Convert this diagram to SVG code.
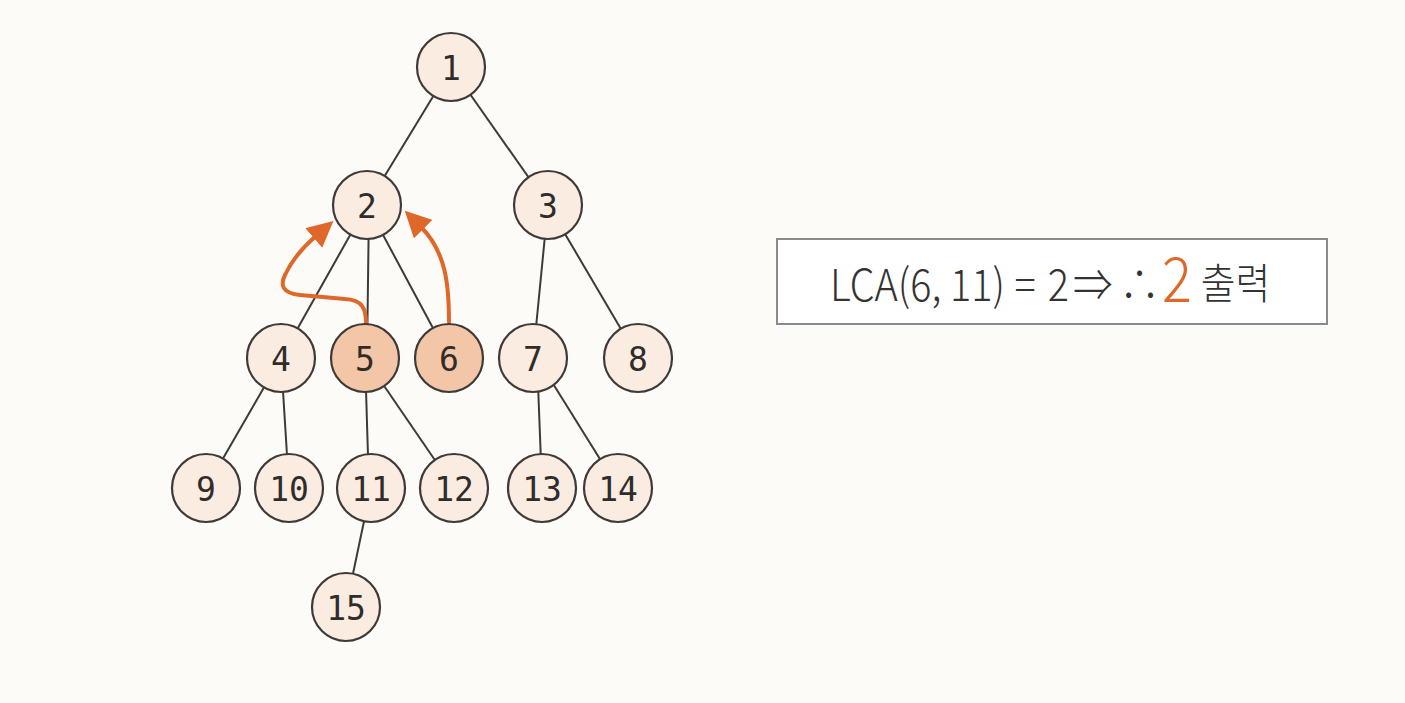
<svg xmlns="http://www.w3.org/2000/svg" width="1405" height="703" viewBox="0 0 1405 703">
<defs>
<style>
.n circle{fill:#fbece2;stroke:#3d3a38;stroke-width:2.2}
.n.h circle{fill:#f3c6a8}
.n text{font-family:"DejaVu Sans Mono","Liberation Mono",monospace;font-size:33px;fill:#2f2c2a;text-anchor:middle;dominant-baseline:central}
.e line{stroke:#3d3a38;stroke-width:2}
.arr{fill:none;stroke:#e0672a;stroke-width:4;stroke-linecap:round;stroke-linejoin:round}
.lbl{font-family:"Noto Sans CJK KR","Liberation Sans",sans-serif;font-size:44px;fill:#333;font-weight:300}
.lbl .hl{fill:#e0672a;font-size:62px}
.lbl .ko{font-size:42px}
</style>
<marker id="ah" viewBox="0 0 26 26" refX="3" refY="13" markerWidth="26" markerHeight="26" markerUnits="userSpaceOnUse" orient="auto">
<path d="M0,0 L26,13 L0,26 z" fill="#e0672a"/>
</marker>
</defs>
<rect width="1405" height="703" fill="#fcfbf8"/>
<g id="connectors" class="e">
<line x1="451" y1="67" x2="367" y2="205"/>
<line x1="451" y1="67" x2="548" y2="205"/>
<line x1="367" y1="205" x2="281" y2="358"/>
<line x1="369" y1="205" x2="367" y2="358"/>
<line x1="367" y1="205" x2="449" y2="358"/>
<line x1="548" y1="205" x2="533" y2="358"/>
<line x1="548" y1="205" x2="638" y2="358"/>
<line x1="281" y1="358" x2="206" y2="488"/>
<line x1="281" y1="358" x2="289" y2="488"/>
<line x1="365" y1="358" x2="369" y2="488"/>
<line x1="365" y1="358" x2="454" y2="488"/>
<line x1="537" y1="358" x2="542" y2="488"/>
<line x1="537" y1="358" x2="618" y2="488"/>
<line x1="371" y1="488" x2="346" y2="607"/>
<path class="arr" d="M366,323 C366,308 362,300 345,299 L300,295 C282,293 280,285 285,275 C292,260 302,248 316,236" marker-end="url(#ah)"/>
<path class="arr" d="M449,322 C449,285 446,252 421,227" marker-end="url(#ah)"/>
</g>
<g id="n1" class="n"><circle cx="451" cy="67" r="34"/><text x="451" y="68">1</text></g>
<g id="n2" class="n"><circle cx="367" cy="205" r="34"/><text x="367" y="206">2</text></g>
<g id="n3" class="n"><circle cx="548" cy="205" r="34"/><text x="548" y="206">3</text></g>
<g id="n4" class="n"><circle cx="281" cy="358" r="34"/><text x="281" y="359">4</text></g>
<g id="n5" class="n h"><circle cx="365" cy="358" r="34"/><text x="365" y="359">5</text></g>
<g id="n6" class="n h"><circle cx="449" cy="358" r="34"/><text x="449" y="359">6</text></g>
<g id="n7" class="n"><circle cx="533" cy="358" r="34"/><text x="533" y="359">7</text></g>
<g id="n8" class="n"><circle cx="638" cy="358" r="34"/><text x="638" y="359">8</text></g>
<g id="n9" class="n"><circle cx="206" cy="488" r="34"/><text x="206" y="489">9</text></g>
<g id="n10" class="n"><circle cx="289" cy="488" r="34"/><text x="289" y="489">10</text></g>
<g id="n11" class="n"><circle cx="371" cy="488" r="34"/><text x="371" y="489">11</text></g>
<g id="n12" class="n"><circle cx="454" cy="488" r="34"/><text x="454" y="489">12</text></g>
<g id="n13" class="n"><circle cx="542" cy="488" r="34"/><text x="542" y="489">13</text></g>
<g id="n14" class="n"><circle cx="618" cy="488" r="34"/><text x="618" y="489">14</text></g>
<g id="n15" class="n"><circle cx="346" cy="607" r="34"/><text x="346" y="608">15</text></g>
<g id="result">
<rect x="777" y="239" width="550" height="85" fill="#ffffff" stroke="#8a8a8a" stroke-width="2"/>
<text class="lbl" transform="translate(830,301) scale(0.9,1)"><tspan x="0" y="0">LCA(6, 11)</tspan><tspan x="205">=</tspan><tspan x="242">2</tspan><tspan x="270">⇒</tspan><tspan x="322">∴</tspan><tspan class="hl" x="369" y="1">2</tspan><tspan class="ko" x="412" y="-2">출력</tspan></text>
</g>
</svg>
